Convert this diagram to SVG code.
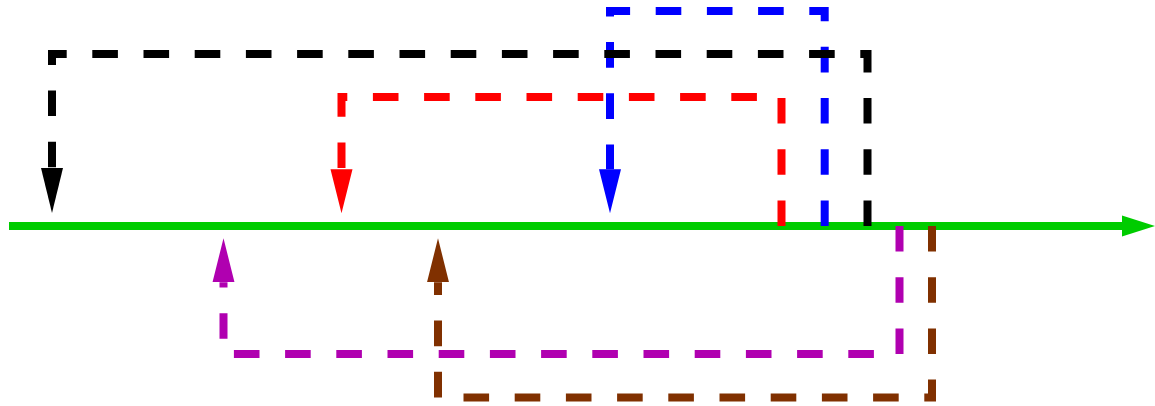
<svg xmlns="http://www.w3.org/2000/svg" width="1155" height="406" viewBox="0 0 1155 406">
  <style>
    .c { fill: none; stroke-width: 8; stroke-dasharray: 25.6 25.6; stroke-linejoin: miter; stroke-linecap: butt; }
  </style>
  <defs>
    <marker id="ah-green" markerUnits="userSpaceOnUse" viewBox="0 -12 34 24" markerWidth="34" markerHeight="24" refX="0" refY="0" orient="auto">
      <path d="M0,-10.5 L33,0 L0,10.5 Z" fill="#00cc00"/>
    </marker>
    <marker id="ah-black" markerUnits="userSpaceOnUse" viewBox="0 -12 46 24" markerWidth="46" markerHeight="24" refX="0" refY="0" orient="auto">
      <path d="M0,-11 L45,0 L0,11 Z" fill="#000000"/>
    </marker>
    <marker id="ah-red" markerUnits="userSpaceOnUse" viewBox="0 -12 46 24" markerWidth="46" markerHeight="24" refX="0" refY="0" orient="auto">
      <path d="M0,-11 L44,0 L0,11 Z" fill="#ff0000"/>
    </marker>
    <marker id="ah-blue" markerUnits="userSpaceOnUse" viewBox="0 -12 46 24" markerWidth="46" markerHeight="24" refX="0" refY="0" orient="auto">
      <path d="M0,-11 L44,0 L0,11 Z" fill="#0000ff"/>
    </marker>
    <marker id="ah-purple" markerUnits="userSpaceOnUse" viewBox="0 -12 46 24" markerWidth="46" markerHeight="24" refX="0" refY="0" orient="auto">
      <path d="M0,-11 L44,0 L0,11 Z" fill="#b000b0"/>
    </marker>
    <marker id="ah-brown" markerUnits="userSpaceOnUse" viewBox="0 -12 46 24" markerWidth="46" markerHeight="24" refX="0" refY="0" orient="auto">
      <path d="M0,-11 L44,0 L0,11 Z" fill="#803000"/>
    </marker>
  </defs>
  <rect width="1155" height="406" fill="#ffffff"/>
  <g id="timeline">
    <path d="M9,226 H1122" fill="none" stroke="#00cc00" stroke-width="8" marker-end="url(#ah-green)"/>
  </g>
  <g id="connectors">
    <path class="c" stroke="#b000b0" d="M899.5,226 V354 H223.5 V282.3" marker-end="url(#ah-purple)"/>
    <path class="c" stroke="#803000" d="M932,226 V397.5 H438 V282.3" marker-end="url(#ah-brown)"/>
    <path class="c" stroke="#ff0000" d="M781.5,226 V97 H341.5 V169.3" marker-end="url(#ah-red)"/>
    <path class="c" stroke="#0000ff" d="M824.7,226 V11 H610 V169.3" marker-end="url(#ah-blue)"/>
    <path class="c" stroke="#000000" d="M867.5,226 V54 H52 V168" marker-end="url(#ah-black)"/>
  </g>
</svg>
